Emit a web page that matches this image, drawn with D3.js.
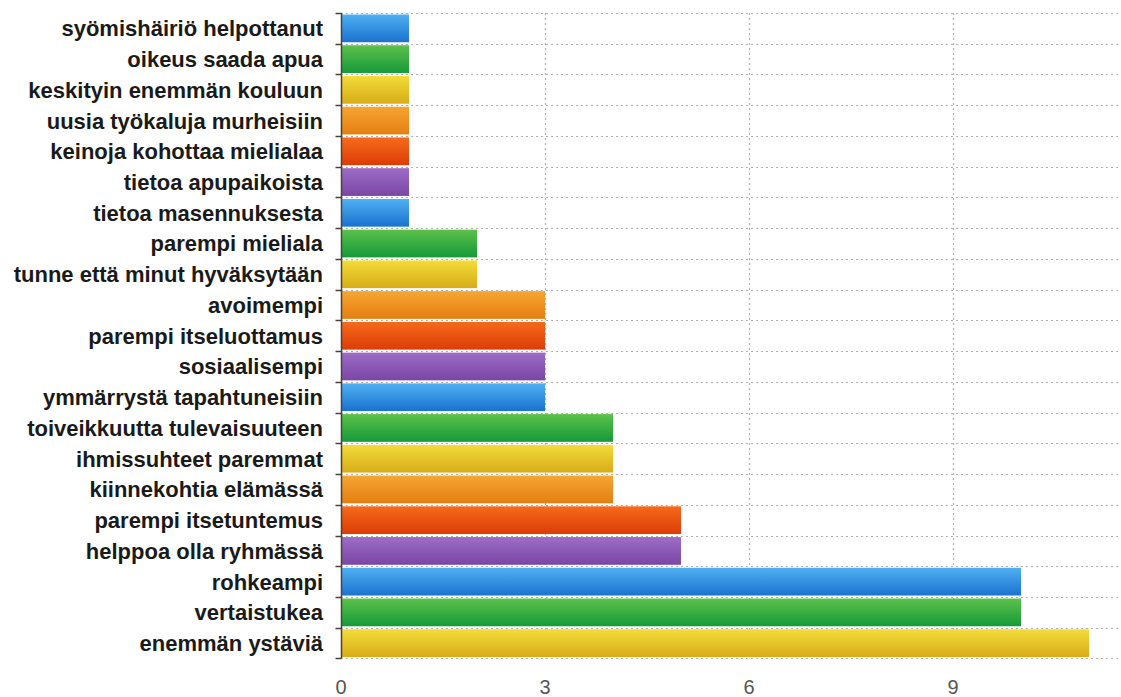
<!DOCTYPE html>
<html>
<head>
<meta charset="utf-8">
<script src="https://cdn.jsdelivr.net/npm/d3@7"></script>
<style>
  body { margin: 0; background: #fff; }
  svg { display: block; }
</style>
</head>
<body>
<svg id="chart" width="1121" height="697"></svg>
<script>
// data, top to bottom
const categories = [
    'syömishäiriö helpottanut', 'oikeus saada apua', 'keskityin enemmän kouluun',
    'uusia työkaluja murheisiin', 'keinoja kohottaa mielialaa', 'tietoa apupaikoista',
    'tietoa masennuksesta', 'parempi mieliala', 'tunne että minut hyväksytään',
    'avoimempi', 'parempi itseluottamus', 'sosiaalisempi', 'ymmärrystä tapahtuneisiin',
    'toiveikkuutta tulevaisuuteen', 'ihmissuhteet paremmat', 'kiinnekohtia elämässä',
    'parempi itsetuntemus', 'helppoa olla ryhmässä', 'rohkeampi', 'vertaistukea',
    'enemmän ystäviä'
];
const values = [1, 1, 1, 1, 1, 1, 1, 2, 2, 3, 3, 3, 3, 4, 4, 4, 5, 5, 10, 10, 11];
const xTicks = [0, 3, 6, 9];

// top/bottom gradient stops per colour
const palette = [
    ['#4fb0f2', '#1a72cf'], // blue
    ['#5cc14a', '#159a3a'], // green
    ['#f2dc3a', '#d8ac18'], // yellow
    ['#f6a532', '#e47f12'], // orange
    ['#f66a1c', '#dc3c06'], // red
    ['#9c6cc6', '#7a47a4']  // purple
];

const width = 1121, height = 697;
const margin = { top: 13, right: 0, bottom: 38, left: 341 };

const svg = d3.select('#chart');
const defs = svg.append('defs');
palette.forEach((c, i) => {
    const g = defs.append('linearGradient')
        .attr('id', 'grad' + i)
        .attr('x1', 0).attr('y1', 0).attr('x2', 0).attr('y2', 1);
    g.append('stop').attr('offset', '0%').attr('stop-color', c[0]);
    g.append('stop').attr('offset', '100%').attr('stop-color', c[1]);
});

const x = d3.scaleLinear()
    .domain([0, 1])
    .range([margin.left, margin.left + 68]);

const y = d3.scaleBand()
    .domain(categories)
    .range([margin.top, height - margin.bottom - 0.5])
    .paddingInner(0);

const bw = y.bandwidth();

// horizontal dotted grid at band boundaries
const bounds = categories.map(c => y(c)).concat([y(categories[categories.length - 1]) + bw]);
svg.append('g')
    .selectAll('line')
    .data(bounds)
    .join('line')
    .attr('x1', margin.left)
    .attr('x2', width)
    .attr('y1', d => Math.round(d) + 0.5)
    .attr('y2', d => Math.round(d) + 0.5)
    .attr('stroke', '#b0b0b0')
    .attr('stroke-width', 1.2)
    .attr('stroke-dasharray', '2,3');

// vertical dotted grid
svg.append('g')
    .selectAll('line')
    .data(xTicks.filter(d => d > 0))
    .join('line')
    .attr('x1', d => Math.round(x(d)) + 0.5)
    .attr('x2', d => Math.round(x(d)) + 0.5)
    .attr('y1', margin.top)
    .attr('y2', bounds[bounds.length - 1])
    .attr('stroke', '#b0b0b0')
    .attr('stroke-width', 1.2)
    .attr('stroke-dasharray', '2,3');

// bars
svg.append('g')
    .selectAll('rect')
    .data(categories)
    .join('rect')
    .attr('x', x(0) + 1)
    .attr('y', d => y(d) + 1.5)
    .attr('width', (d, i) => x(values[i]) - x(0) - 1)
    .attr('height', bw - 3)
    .attr('fill', (d, i) => `url(#grad${i % palette.length})`);

// left axis
const yAxis = svg.append('g')
    .attr('transform', `translate(${margin.left + 0.5},0)`);
yAxis.append('line')
    .attr('y1', margin.top)
    .attr('y2', bounds[bounds.length - 1])
    .attr('stroke', '#4a4038')
    .attr('stroke-width', 1.5);
yAxis.selectAll('line.tick')
    .data(bounds)
    .join('line')
    .attr('class', 'tick')
    .attr('x1', -6)
    .attr('x2', 0)
    .attr('y1', d => Math.round(d) + 0.5)
    .attr('y2', d => Math.round(d) + 0.5)
    .attr('stroke', '#4a4038')
    .attr('stroke-width', 1.5);

// category labels
svg.append('g')
    .selectAll('text')
    .data(categories)
    .join('text')
    .attr('x', 323)
    .attr('y', d => y(d) + bw / 2)
    .attr('dy', '0.36em')
    .attr('text-anchor', 'end')
    .attr('font-family', 'Liberation Sans, Arial, sans-serif')
    .attr('font-weight', 'bold')
    .attr('font-size', '22px')
    .attr('fill', '#1a1a1a')
    .text(d => d);

// x tick labels
svg.append('g')
    .selectAll('text')
    .data(xTicks)
    .join('text')
    .attr('x', d => x(d))
    .attr('y', 694)
    .attr('text-anchor', 'middle')
    .attr('font-family', 'Liberation Sans, Arial, sans-serif')
    .attr('font-size', '20px')
    .attr('fill', '#555')
    .text(d => d);
</script>
</body>
</html>
